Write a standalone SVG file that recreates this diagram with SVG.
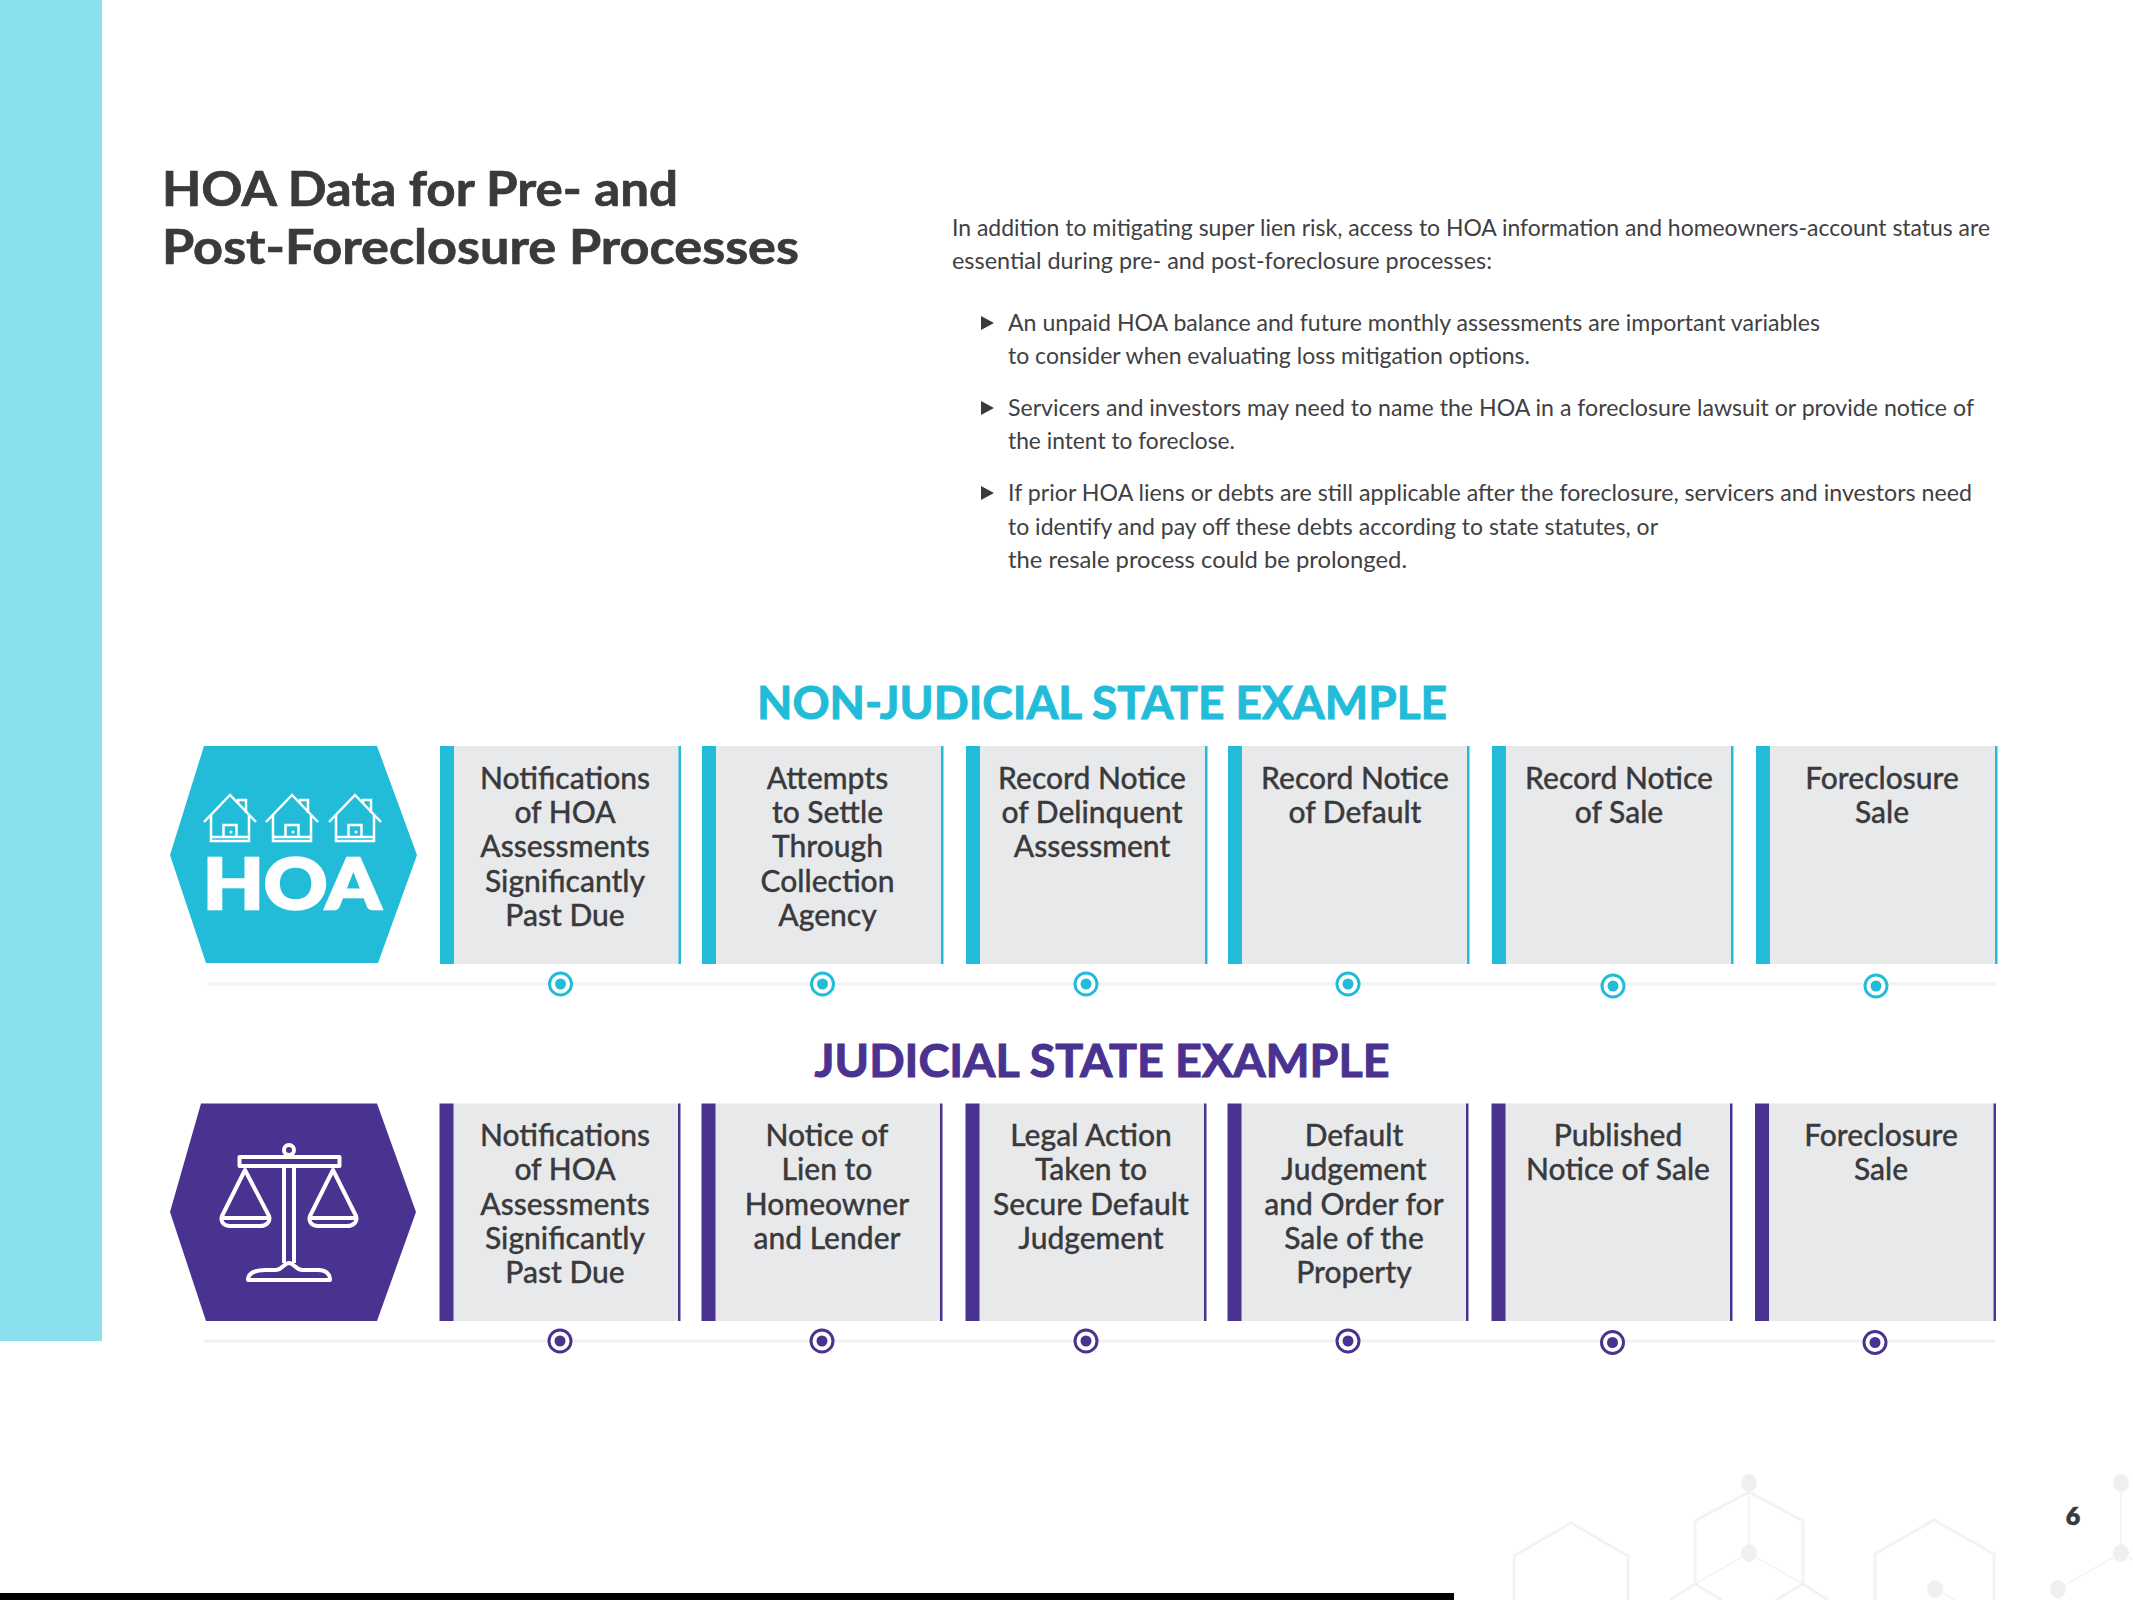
<svg xmlns="http://www.w3.org/2000/svg" width="2133" height="1600" viewBox="0 0 2133 1600">
<style>
text{font-family:"Lato","Open Sans","Liberation Sans",sans-serif;fill:#3a3a3c}
.title{font-size:47px;font-weight:700;stroke:#3a3a3c;stroke-width:.7}
.body{font-size:23.5px;fill:#404042}
.head{font-size:46px;font-weight:700;text-anchor:middle;stroke-width:1}
.lab{font-size:30px;font-weight:500;text-anchor:middle;stroke:#3a3a3c;stroke-width:.3}
.box{fill:#e8e9eb}
.t{fill:#22bcd9}.p{fill:#4a3290}
.tl{fill:#f1f2f2}
.ic{fill:none;stroke:#fff;stroke-width:2.500;stroke-linejoin:miter}
.ic2{fill:none;stroke:#fff;stroke-width:4;stroke-linejoin:round}
.wm{fill:none;stroke:#f3f3f3;stroke-width:3}
.wt{fill:none;stroke:#f3f3f3;stroke-width:1.5}
.wd{fill:#f0f0f0}
.b{fill:#3a3a3c}
</style>
<defs>
<g id="house" class="ic">
<path d="M-26 27 L0 0 L26 27"/>
<path d="M-19 20 V46 H19 V20"/>
<path d="M-19 42 H19"/>
<path d="M8 8 V5 H16 V18"/>
<path d="M-6.500 42 V30 H6.500 V42"/>
<circle cx="1" cy="37" r="1.500" fill="#fff" stroke="none"/>
</g>
<g id="dot-t"><circle r="11" fill="#fff" stroke="#22bcd9" stroke-width="3"/><circle r="5.500" fill="#22bcd9"/></g>
<g id="dot-p"><circle r="11" fill="#fff" stroke="#4a3290" stroke-width="3"/><circle r="5.500" fill="#4a3290"/></g>
</defs>
<rect id="sidebar" x="0" y="0" width="102" height="1341" fill="#8ae0ec"/>
<rect id="footer-bar" x="0" y="1593" width="1454" height="7" fill="#000"/>
<g id="watermark">
<path class="wm" d="M1514 1600 V1556 L1571 1523 L1628 1556 V1600"/>
<path class="wm" d="M1670 1600 L1695 1584 V1521 L1749 1492 L1803 1521 V1584 L1828 1600 M1695 1584 L1722 1600 M1803 1584 L1776 1600"/>
<path class="wm" d="M1875 1600 V1554 L1934 1520 L1994 1554 V1600"/>
<path class="wt" d="M1749 1483 V1553 L1695 1584 M1749 1553 L1803 1584 M1935 1589 L1955 1600 M2121 1483 V1553 L2058 1589 V1600 M2121 1553 L2133 1560"/>
<ellipse class="wd" cx="1749" cy="1483" rx="8" ry="9"/><ellipse class="wd" cx="1749" cy="1553" rx="8" ry="9"/>
<ellipse class="wd" cx="1935" cy="1589" rx="8" ry="9"/><ellipse class="wd" cx="2121" cy="1483" rx="8" ry="9"/>
<ellipse class="wd" cx="2121" cy="1553" rx="8" ry="9"/><ellipse class="wd" cx="2058" cy="1589" rx="8" ry="9"/>
</g>
<text id="page-number" x="2073" y="1524.500" text-anchor="middle" style="font-size:25px;font-weight:800;stroke:#3a3a3c;stroke-width:.5">6</text>
<g id="title">
<text class="title" x="162" y="205.500" textLength="516" lengthAdjust="spacingAndGlyphs">HOA Data for Pre- and</text>
<text class="title" x="162" y="263.500" textLength="637" lengthAdjust="spacingAndGlyphs">Post-Foreclosure Processes</text>
</g>
<g id="intro">
<text class="body" x="952" y="236" textLength="1038" lengthAdjust="spacingAndGlyphs">In addition to mitigating super lien risk, access to HOA information and homeowners-account status are</text>
<text class="body" x="952" y="269" textLength="540" lengthAdjust="spacingAndGlyphs">essential during pre- and post-foreclosure processes:</text>
</g>
<g id="bullet-1">
<path class="b" d="M981 316 L994 323 L981 330 Z"/>
<text class="body" x="1008" y="331" textLength="812" lengthAdjust="spacingAndGlyphs">An unpaid HOA balance and future monthly assessments are important variables</text>
<text class="body" x="1008" y="364" textLength="522" lengthAdjust="spacingAndGlyphs">to consider when evaluating loss mitigation options.</text>
</g>
<g id="bullet-2">
<path class="b" d="M981 401 L994 408 L981 415 Z"/>
<text class="body" x="1008" y="416" textLength="966" lengthAdjust="spacingAndGlyphs">Servicers and investors may need to name the HOA in a foreclosure lawsuit or provide notice of</text>
<text class="body" x="1008" y="449" textLength="227" lengthAdjust="spacingAndGlyphs">the intent to foreclose.</text>
</g>
<g id="bullet-3">
<path class="b" d="M981 486 L994 493 L981 500 Z"/>
<text class="body" x="1008" y="501" textLength="964" lengthAdjust="spacingAndGlyphs">If prior HOA liens or debts are still applicable after the foreclosure, servicers and investors need</text>
<text class="body" x="1008" y="535" textLength="650" lengthAdjust="spacingAndGlyphs">to identify and pay off these debts according to state statutes, or</text>
<text class="body" x="1008" y="568" textLength="399" lengthAdjust="spacingAndGlyphs">the resale process could be prolonged.</text>
</g>
<text id="head-nonjudicial" class="head" style="fill:#22bcd9;stroke:#22bcd9" x="1102" y="719" textLength="690" lengthAdjust="spacingAndGlyphs">NON-JUDICIAL STATE EXAMPLE</text>
<text id="head-judicial" class="head" style="fill:#4a3290;stroke:#4a3290" x="1102" y="1077" textLength="575" lengthAdjust="spacingAndGlyphs">JUDICIAL STATE EXAMPLE</text>

<g id="connectors">
<rect class="tl" x="207" y="982.500" width="1788" height="3"/>
<rect class="tl" x="204" y="1339.500" width="1791" height="3"/>
</g>

<g id="hex-hoa">
<path class="t" d="M170 855 L204 746 H377 L417 855 L378 963 H206 Z"/>
<use href="#house" x="230" y="795"/><use href="#house" x="292" y="795"/><use href="#house" x="355" y="795"/>
<text x="292" y="909" text-anchor="middle" textLength="178" lengthAdjust="spacingAndGlyphs" style="fill:#fff;stroke:#fff;stroke-width:2.500;font-size:70px;font-weight:900">HOA</text>
</g>
<g id="hex-judicial">
<path class="p" d="M170 1212 L201 1103.500 H377 L416 1212 L377 1321 H206 Z"/>
<g class="ic2">
<circle cx="289" cy="1150" r="5"/>
<rect x="239.500" y="1157" width="100" height="9"/>
<path d="M284 1166 V1263 M294 1166 V1263"/>
<path d="M248 1280 C248 1272 256 1270 266 1270 H276 C282 1270 284 1263 289 1263 C294 1263 296 1270 302 1270 H318 C326 1270 330 1274 330 1280 Z"/>
<path d="M245 1170 L222 1216 C220 1222 224 1226 230 1226 H260 C266 1226 271 1222 269 1216 Z M222 1218 H269"/>
<path d="M333 1170 L310 1216 C308 1222 312 1226 318 1226 H347 C353 1226 358 1222 356 1216 Z M310 1218 H356"/>
</g>
</g>

<g id="n1-1"><rect class="box" x="454" y="746" width="225" height="218"/><rect class="t" x="440" y="746" width="14" height="218"/><rect class="t" x="678.500" y="746" width="2.500" height="218"/>
<text class="lab"><tspan x="565" y="789">Notifications</tspan><tspan x="565" y="823">of HOA</tspan><tspan x="565" y="857">Assessments</tspan><tspan x="565" y="892">Significantly</tspan><tspan x="565" y="926">Past Due</tspan></text>
<use href="#dot-t" x="560.500" y="984"/></g>
<g id="n1-2"><rect class="box" x="716" y="746" width="225" height="218"/><rect class="t" x="702" y="746" width="14" height="218"/><rect class="t" x="941" y="746" width="2.500" height="218"/>
<text class="lab"><tspan x="827.500" y="789">Attempts</tspan><tspan x="827.500" y="823">to Settle</tspan><tspan x="827.500" y="857">Through</tspan><tspan x="827.500" y="892">Collection</tspan><tspan x="827.500" y="926">Agency</tspan></text>
<use href="#dot-t" x="822.500" y="984"/></g>
<g id="n1-3"><rect class="box" x="980" y="746" width="225" height="218"/><rect class="t" x="966" y="746" width="14" height="218"/><rect class="t" x="1205" y="746" width="2.500" height="218"/>
<text class="lab"><tspan x="1092" y="789">Record Notice</tspan><tspan x="1092" y="823">of Delinquent</tspan><tspan x="1092" y="857">Assessment</tspan></text>
<use href="#dot-t" x="1086" y="984"/></g>
<g id="n1-4"><rect class="box" x="1242" y="746" width="225" height="218"/><rect class="t" x="1228" y="746" width="14" height="218"/><rect class="t" x="1467" y="746" width="2.500" height="218"/>
<text class="lab"><tspan x="1355" y="789">Record Notice</tspan><tspan x="1355" y="823">of Default</tspan></text>
<use href="#dot-t" x="1348" y="984"/></g>
<g id="n1-5"><rect class="box" x="1506" y="746" width="225" height="218"/><rect class="t" x="1492" y="746" width="14" height="218"/><rect class="t" x="1731" y="746" width="2.500" height="218"/>
<text class="lab"><tspan x="1619" y="789">Record Notice</tspan><tspan x="1619" y="823">of Sale</tspan></text>
<use href="#dot-t" x="1613" y="986"/></g>
<g id="n1-6"><rect class="box" x="1770" y="746" width="225" height="218"/><rect class="t" x="1756" y="746" width="14" height="218"/><rect class="t" x="1995" y="746" width="2.500" height="218"/>
<text class="lab"><tspan x="1882" y="789">Foreclosure</tspan><tspan x="1882" y="823">Sale</tspan></text>
<use href="#dot-t" x="1876" y="986"/></g>

<g id="n2-1"><rect class="box" x="453" y="1103.500" width="225" height="217.500"/><rect class="p" x="439.500" y="1103.500" width="14" height="217.500"/><rect class="p" x="678" y="1103.500" width="2.500" height="217.500"/>
<text class="lab"><tspan x="565" y="1146">Notifications</tspan><tspan x="565" y="1180">of HOA</tspan><tspan x="565" y="1215">Assessments</tspan><tspan x="565" y="1249">Significantly</tspan><tspan x="565" y="1283">Past Due</tspan></text>
<use href="#dot-p" x="560" y="1341"/></g>
<g id="n2-2"><rect class="box" x="715" y="1103.500" width="225" height="217.500"/><rect class="p" x="701.500" y="1103.500" width="14" height="217.500"/><rect class="p" x="940" y="1103.500" width="2.500" height="217.500"/>
<text class="lab"><tspan x="827" y="1146">Notice of</tspan><tspan x="827" y="1180">Lien to</tspan><tspan x="827" y="1215">Homeowner</tspan><tspan x="827" y="1249">and Lender</tspan></text>
<use href="#dot-p" x="822" y="1341"/></g>
<g id="n2-3"><rect class="box" x="979" y="1103.500" width="225" height="217.500"/><rect class="p" x="965.500" y="1103.500" width="14" height="217.500"/><rect class="p" x="1204" y="1103.500" width="2.500" height="217.500"/>
<text class="lab"><tspan x="1091" y="1146">Legal Action</tspan><tspan x="1091" y="1180">Taken to</tspan><tspan x="1091" y="1215">Secure Default</tspan><tspan x="1091" y="1249">Judgement</tspan></text>
<use href="#dot-p" x="1086" y="1341"/></g>
<g id="n2-4"><rect class="box" x="1241" y="1103.500" width="225" height="217.500"/><rect class="p" x="1227.500" y="1103.500" width="14" height="217.500"/><rect class="p" x="1466" y="1103.500" width="2.500" height="217.500"/>
<text class="lab"><tspan x="1354" y="1146">Default</tspan><tspan x="1354" y="1180">Judgement</tspan><tspan x="1354" y="1215">and Order for</tspan><tspan x="1354" y="1249">Sale of the</tspan><tspan x="1354" y="1283">Property</tspan></text>
<use href="#dot-p" x="1348" y="1341"/></g>
<g id="n2-5"><rect class="box" x="1505" y="1103.500" width="225" height="217.500"/><rect class="p" x="1491.500" y="1103.500" width="14" height="217.500"/><rect class="p" x="1730" y="1103.500" width="2.500" height="217.500"/>
<text class="lab"><tspan x="1618" y="1146">Published</tspan><tspan x="1618" y="1180">Notice of Sale</tspan></text>
<use href="#dot-p" x="1612.500" y="1342.500"/></g>
<g id="n2-6"><rect class="box" x="1768.500" y="1103.500" width="225" height="217.500"/><rect class="p" x="1755" y="1103.500" width="14" height="217.500"/><rect class="p" x="1993.500" y="1103.500" width="2.500" height="217.500"/>
<text class="lab"><tspan x="1881" y="1146">Foreclosure</tspan><tspan x="1881" y="1180">Sale</tspan></text>
<use href="#dot-p" x="1875" y="1342.500"/></g>
</svg>
